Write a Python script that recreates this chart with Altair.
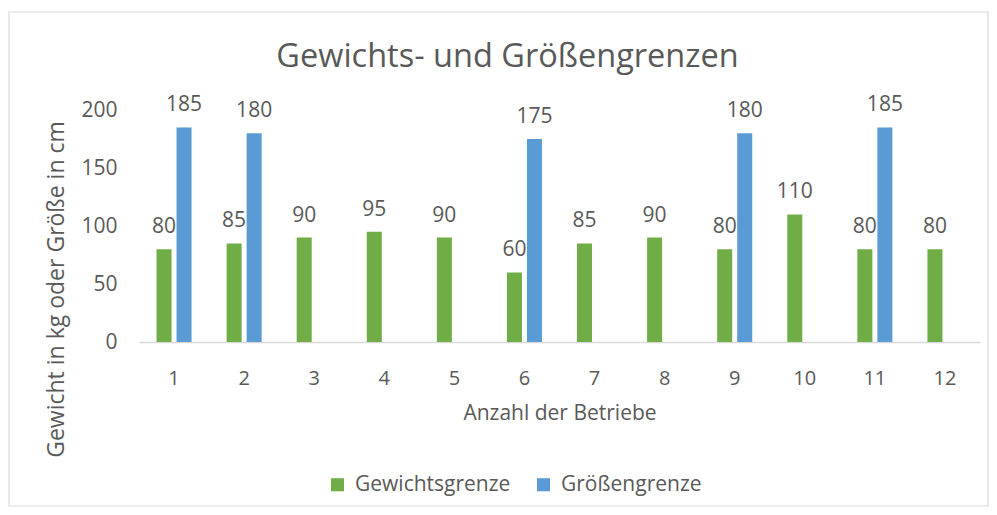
import altair as alt
import pandas as pd

categories = [str(i) for i in range(1, 13)]
gewicht = [80, 85, 90, 95, 90, 60, 85, 90, 80, 110, 80, 80]
groesse = [185, 180, None, None, None, 175, None, None, 180, None, 185, None]
series = ["Gewichtsgrenze", "Größengrenze"]
colors = ["#70AD47", "#5B9BD5"]
title_text = ["Gewichts- und Größengrenzen"]

rows = []
for c, g, h in zip(categories, gewicht, groesse):
    rows.append({"cat": c, "serie": series[0], "wert": g})
    if h is not None:
        rows.append({"cat": c, "serie": series[1], "wert": h})
df = pd.DataFrame(rows)

FONT = "Open Sans"
TXT = "#595959"

x = alt.X("cat:N", sort=categories, title="Anzahl der Betriebe",
          scale=alt.Scale(paddingInner=0.5, paddingOuter=0.25),
          axis=alt.Axis(labelAngle=0, labelFontSize=20, labelColor=TXT, labelFont=FONT,
                        titleFontSize=21, titleColor=TXT, titleFont=FONT, titleFontWeight="normal",
                        domainColor="#d9d9d9", domainWidth=1.5, ticks=False, labelPadding=26,
                        titlePadding=14))
xo = alt.XOffset("serie:N", sort=series, scale=alt.Scale(paddingInner=0.25, paddingOuter=0))
y = alt.Y("wert:Q", scale=alt.Scale(domain=[0, 200]), title="Gewicht in kg oder Größe in cm",
          axis=alt.Axis(values=[0, 50, 100, 150, 200], grid=False, domain=False, ticks=False,
                        labelFontSize=21, labelColor=TXT, labelFont=FONT, labelPadding=22,
                        titleFontSize=23, titleColor=TXT, titleFont=FONT, titleFontWeight="normal",
                        titleX=-83, titleY=179, titleAlign="center", titleBaseline="middle"))
color = alt.Color("serie:N", sort=series, scale=alt.Scale(domain=series, range=colors),
                  legend=alt.Legend(title=None, orient="none", legendX=188, legendY=364,
                                    direction="horizontal", symbolType="square", symbolSize=170,
                                    symbolStrokeWidth=0, labelFontSize=21, labelColor=TXT,
                                    labelFont=FONT, labelOffset=7, columnPadding=22))

bars = alt.Chart(df).mark_bar().encode(x=x, xOffset=xo, y=y, color=color)
labels = alt.Chart(df).mark_text(baseline="alphabetic", dy=-16, fontSize=21, font=FONT, color=TXT).encode(
    x=x, xOffset=xo, y=y, text="wert:Q")

frame = alt.Chart(pd.DataFrame({"a": [0]})).mark_rect(fill=None, stroke="#d9d9d9", strokeWidth=1.2).encode(
    x=alt.value(-130), x2=alt.value(849), y=alt.value(-98), y2=alt.value(396))

title = alt.Chart(pd.DataFrame({"t": title_text})).mark_text(
    fontSize=32.5, font=FONT, color=TXT, align="center", baseline="middle").encode(
    x=alt.value(368.5), y=alt.value(-53), text="t:N")

chart = alt.layer(frame, bars, labels, title).properties(
    width=841, height=232,
    background="white",
    autosize=alt.AutoSizeParams(type="none"),
    padding={"left": 131, "top": 102, "right": 9, "bottom": 165},
).configure_view(stroke=None)

chart.save("out.html", embed_options={"renderer": "svg", "actions": False})
